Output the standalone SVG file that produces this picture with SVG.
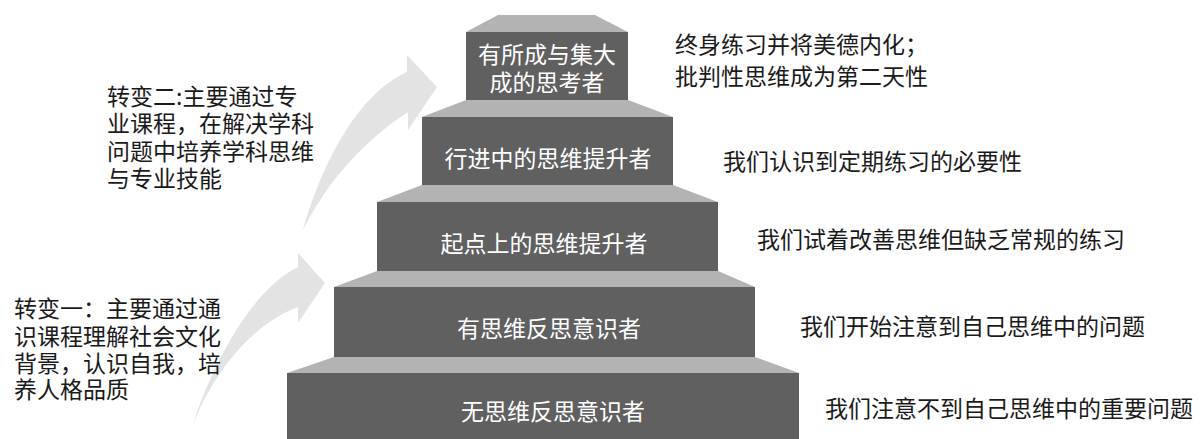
<svg xmlns="http://www.w3.org/2000/svg" width="1200" height="439" viewBox="0 0 1200 439">
<style>
.face{fill:#b3b3b3}
.box{fill:#606060}
.lbl{font-family:"Noto Sans CJK SC","Liberation Sans",sans-serif;font-size:23px;fill:#ffffff;text-anchor:middle;dominant-baseline:central}
.txt{font-family:"Noto Sans CJK SC","Liberation Sans",sans-serif;font-size:23px;fill:#1a1a1a;dominant-baseline:central}
.arrow{fill:#e3e3e3}
</style>
<rect width="1200" height="439" fill="#ffffff"/>
<g id="connectors">
<path class="arrow" d="M303,230 C320,170 355,95 407,72 L407,55 L437,87 L408,130 L408,112 C365,140 328,180 303,230 Z"/>
<path class="arrow" d="M192,427 C210,370 250,290 298,267 L298,253 L325,283 L298,323 L298,307 C250,325 212,375 192,427 Z"/>
</g>
<g id="step5">
<polygon class="face" points="334,357 755,357 799,373 287,373"/>
<rect class="box" x="287" y="373" width="512" height="66"/>
<text class="lbl" x="553" y="410">无思维反思意识者</text>
</g>
<g id="step4">
<polygon class="face" points="377,271 718,271 755,287 334,287"/>
<rect class="box" x="334" y="287" width="421" height="70"/>
<text class="lbl" x="549" y="327">有思维反思意识者</text>
</g>
<g id="step3">
<polygon class="face" points="422,185 673,185 718,202 377,202"/>
<rect class="box" x="377" y="202" width="341" height="69"/>
<text class="lbl" x="544" y="242">起点上的思维提升者</text>
</g>
<g id="step2">
<polygon class="face" points="466,100 628,100 673,117 422,117"/>
<rect class="box" x="422" y="117" width="251" height="68"/>
<text class="lbl" x="548" y="157">行进中的思维提升者</text>
</g>
<g id="step1">
<polygon class="face" points="498,15 595,15 628,32 466,32"/>
<rect class="box" x="466" y="32" width="162" height="68"/>
<text class="lbl"><tspan x="547" y="53">有所成与集大</tspan><tspan x="547" y="81">成的思考者</tspan></text>
</g>
<g id="desc1">
<text class="txt"><tspan x="675" y="43">终身练习并将美德内化；</tspan><tspan x="675" y="75">批判性思维成为第二天性</tspan></text>
</g>
<g id="desc2"><text class="txt" x="723" y="160">我们认识到定期练习的必要性</text></g>
<g id="desc3"><text class="txt" x="757" y="238">我们试着改善思维但缺乏常规的练习</text></g>
<g id="desc4"><text class="txt" x="800" y="325">我们开始注意到自己思维中的问题</text></g>
<g id="desc5"><text class="txt" x="825" y="407">我们注意不到自己思维中的重要问题</text></g>
<g id="change2">
<text class="txt"><tspan x="107" y="95">转变二:主要通过专</tspan><tspan x="107" y="122">业课程，在解决学科</tspan><tspan x="107" y="150">问题中培养学科思维</tspan><tspan x="107" y="177">与专业技能</tspan></text>
</g>
<g id="change1">
<text class="txt"><tspan x="14" y="307">转变一：主要通过通</tspan><tspan x="14" y="335">识课程理解社会文化</tspan><tspan x="14" y="362">背景，认识自我，培</tspan><tspan x="14" y="388">养人格品质</tspan></text>
</g>
</svg>
